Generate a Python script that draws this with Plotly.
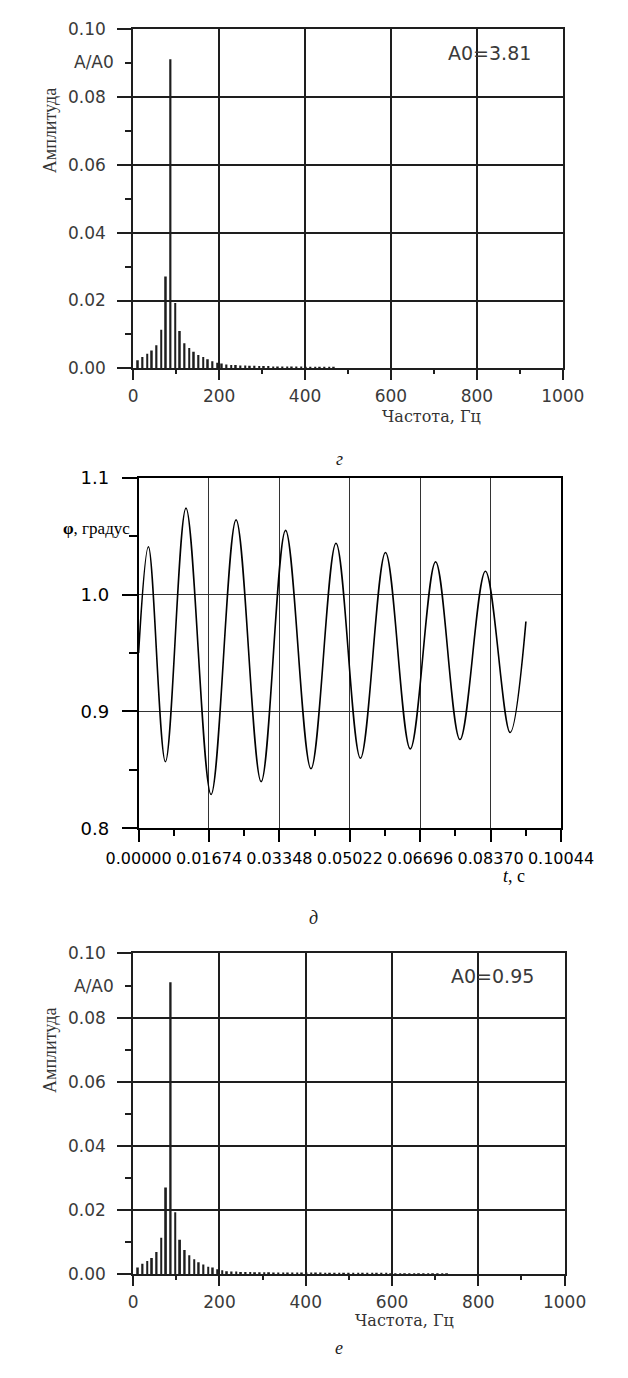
import plotly.graph_objects as go

W, H = 628, 1378

# ---------------- data ----------------
freq_hz = [10.9, 21.7, 32.6, 43.4, 54.3, 65.2, 76.0, 86.9, 97.7, 108.6, 119.5, 130.3,
           141.2, 152.0, 162.9, 173.8, 184.6, 195.5, 206.3, 217.2, 228.1, 238.9, 249.8,
           260.6, 271.5, 282.4, 293.2, 304.1, 314.9, 325.8, 336.7, 347.5, 358.4, 369.2,
           380.1, 391.0, 401.8, 412.7, 423.5, 434.4, 445.3, 456.1, 467.0, 477.8, 488.7,
           499.6, 510.4, 521.3, 532.1, 543.0, 553.9, 564.7, 575.6, 586.4, 597.3, 608.2,
           619.0, 629.9, 640.7, 651.6, 662.5, 673.3, 684.2, 695.0, 705.9, 716.8, 727.6]

amp_top = [0.0024, 0.0034, 0.0043, 0.0053, 0.0068, 0.0114, 0.0271, 0.0910, 0.0193, 0.0110,
           0.0074, 0.0060, 0.0049, 0.0040, 0.0034, 0.0027, 0.0021, 0.0017, 0.0015, 0.0012,
           0.0010, 0.0010, 0.0009, 0.0009, 0.0008, 0.0008, 0.0007, 0.0007, 0.0007, 0.0006,
           0.0006, 0.0006, 0.0006, 0.0006, 0.0006, 0.0006, 0.0005, 0.0005, 0.0005, 0.0005,
           0.0005, 0.0005, 0.0005]

amp_bot = [0.0022, 0.0033, 0.0042, 0.0051, 0.0070, 0.0114, 0.0271, 0.0910, 0.0194, 0.0108,
           0.0076, 0.0060, 0.0047, 0.0038, 0.0031, 0.0024, 0.0022, 0.0016, 0.0013, 0.0010,
           0.0009, 0.0009, 0.0008, 0.0008, 0.0008, 0.0007, 0.0007, 0.0007, 0.0007, 0.0006,
           0.0006, 0.0006, 0.0006, 0.0006, 0.0006, 0.0006, 0.0006, 0.0006, 0.0006, 0.0006,
           0.0005, 0.0005, 0.0005, 0.0005, 0.0005, 0.0005, 0.0005, 0.0005, 0.0005, 0.0005,
           0.0005, 0.0005, 0.0005, 0.0005, 0.0004, 0.0004, 0.0004, 0.0004, 0.0004, 0.0004,
           0.0004, 0.0004, 0.0004, 0.0004, 0.0004, 0.0004, 0.0004]

time_s = [0.0, 0.00234, 0.00638, 0.01127, 0.01723, 0.02318, 0.02914, 0.03495, 0.04099,
          0.04694, 0.05275, 0.05871, 0.06460, 0.07062, 0.07642, 0.08247, 0.08834, 0.09210]
phi_deg = [0.950, 1.041, 0.857, 1.074, 0.829, 1.064, 0.840, 1.055, 0.851,
           1.044, 0.860, 1.036, 0.868, 1.028, 0.876, 1.020, 0.882, 0.977]

time_ticks = [0.0, 0.01674, 0.03348, 0.05022, 0.06696, 0.08370, 0.10044]
time_tick_labels = ["0.00000", "0.01674", "0.03348", "0.05022", "0.06696", "0.08370", "0.10044"]
time_minor = [0.00837, 0.02511, 0.04185, 0.05859, 0.07533, 0.09207]
phi_ticks = [0.8, 0.9, 1.0, 1.1]
phi_tick_labels = ["0.8", "0.9", "1.0", "1.1"]
phi_minor = [0.85, 0.95, 1.05]

a0_top = "A0=3.81"
a0_bot = "A0=0.95"

# ---------------- helpers ----------------
def px(x):
    return x / W

def py(y):
    return 1 - y / H

DARK = "#1e1e1e"
LBL = "#3a3a3a"
SANS = "DejaVu Sans"
SERIF = "Liberation Serif"
WSERIF = "DejaVu Serif"

fig = go.Figure()
fig.add_trace(go.Bar(x=freq_hz[:len(amp_top)], y=amp_top, xaxis="x", yaxis="y", width=4,
                     marker=dict(color=DARK, line=dict(width=0)), showlegend=False))
fig.add_trace(go.Scatter(x=time_s, y=phi_deg, xaxis="x2", yaxis="y2", mode="lines",
                         line=dict(color="black", width=1.6, shape="spline", smoothing=1),
                         showlegend=False))
fig.add_trace(go.Bar(x=freq_hz[:len(amp_bot)], y=amp_bot, xaxis="x3", yaxis="y3", width=4,
                     marker=dict(color=DARK, line=dict(width=0)), showlegend=False))


def spec_x(dom, anchor):
    return dict(domain=dom, anchor=anchor, range=[0, 1000], tickmode="linear", tick0=0, dtick=200,
                showgrid=True, gridcolor=DARK, gridwidth=2, zeroline=False,
                showline=True, linecolor=DARK, linewidth=2, mirror=True,
                ticks="outside", ticklen=10, tickwidth=2, tickcolor=DARK,
                minor=dict(dtick=100, tick0=0, ticks="outside", ticklen=4, tickwidth=2,
                           tickcolor=DARK, showgrid=False),
                tickfont=dict(family=SANS, size=17, color=LBL), ticklabelstandoff=1)


def spec_y(dom, anchor):
    return dict(domain=dom, anchor=anchor, range=[0, 0.10], tickmode="linear", tick0=0, dtick=0.02,
                tickformat=".2f", showgrid=True, gridcolor=DARK, gridwidth=2, zeroline=False,
                showline=True, linecolor=DARK, linewidth=2, mirror=True,
                ticks="outside", ticklen=14, tickwidth=2, tickcolor=DARK,
                minor=dict(dtick=0.01, tick0=0, ticks="outside", ticklen=6, tickwidth=2,
                           tickcolor=DARK, showgrid=False),
                tickfont=dict(family=SANS, size=17, color=LBL), ticklabelstandoff=8)


fig.update_layout(
    width=W, height=H, margin=dict(l=0, r=0, t=0, b=0),
    paper_bgcolor="white", plot_bgcolor="white", showlegend=False,
    xaxis=spec_x([px(112), px(592)], "y"),
    yaxis=spec_y([py(363), py(18)], "x"),
    xaxis3=spec_x([px(112), px(594)], "y3"),
    yaxis3=spec_y([py(1283), py(957)], "x3"),
    xaxis2=dict(domain=[px(118), px(590)], anchor="y2", range=[0, 0.10044],
                tickmode="array", tickvals=time_ticks, ticktext=time_tick_labels,
                showgrid=True, gridcolor="#333", gridwidth=1, zeroline=False,
                showline=True, linecolor="black", linewidth=1.5, mirror=True,
                ticks="outside", ticklen=12, tickwidth=1.5, tickcolor="black",
                minor=dict(tickmode="array", tickvals=time_minor, ticks="outside", ticklen=6,
                           tickwidth=1.5, tickcolor="black", showgrid=False),
                tickfont=dict(family=SANS, size=16, color="black"), ticklabelstandoff=3),
    yaxis2=dict(domain=[py(830), py(474)], anchor="x2", range=[0.8, 1.1],
                tickmode="array", tickvals=phi_ticks, ticktext=phi_tick_labels,
                showgrid=True, gridcolor="#333", gridwidth=1, zeroline=False,
                showline=True, linecolor="black", linewidth=1.5, mirror=True,
                ticks="outside", ticklen=15, tickwidth=1.5, tickcolor="black",
                minor=dict(tickmode="array", tickvals=phi_minor, ticks="outside", ticklen=8,
                           tickwidth=1.5, tickcolor="black", showgrid=False),
                tickfont=dict(family=SANS, size=18, color="black"), ticklabelstandoff=9),
)

ann = []
def add(text, x, y, size, family=SANS, color=LBL, xanchor="center", yanchor="middle", angle=0):
    ann.append(dict(text=text, x=px(x), y=py(y), xref="paper", yref="paper", showarrow=False,
                    xanchor=xanchor, yanchor=yanchor, textangle=angle,
                    font=dict(family=family, size=size, color=color)))

# top spectrum
add("A/A0", 93, 52, 17, xanchor="right")
add(a0_top, 462, 43, 19, xanchor="left")
add("Амплитуда", 19, 122, 18, family=SERIF, color="#333", angle=-90)
add("Частота, Гц", 445, 412, 16, family=WSERIF, color="#333")
add("<i>г</i>", 342, 455, 18, family=SERIF, color="#222")
# middle
add("<b>φ</b>, градус", 111, 537, 17, family=SERIF, color="black", xanchor="right", yanchor="bottom")
add("<i>t</i>, с", 537, 878, 18, family=SERIF, color="black")
add("<i>д</i>", 313, 921, 18, family=SERIF, color="#222")
# bottom spectrum
add("A/A0", 93, 990, 17, xanchor="right")
add(a0_bot, 465, 980, 19, xanchor="left")
add("Амплитуда", 19, 1056, 18, family=SERIF, color="#333", angle=-90)
add("Частота, Гц", 415, 1330, 16, family=WSERIF, color="#333")
add("<i>е</i>", 342, 1358, 18, family=SERIF, color="#222")

fig.update_layout(annotations=ann)

fig.write_html("out.html")
